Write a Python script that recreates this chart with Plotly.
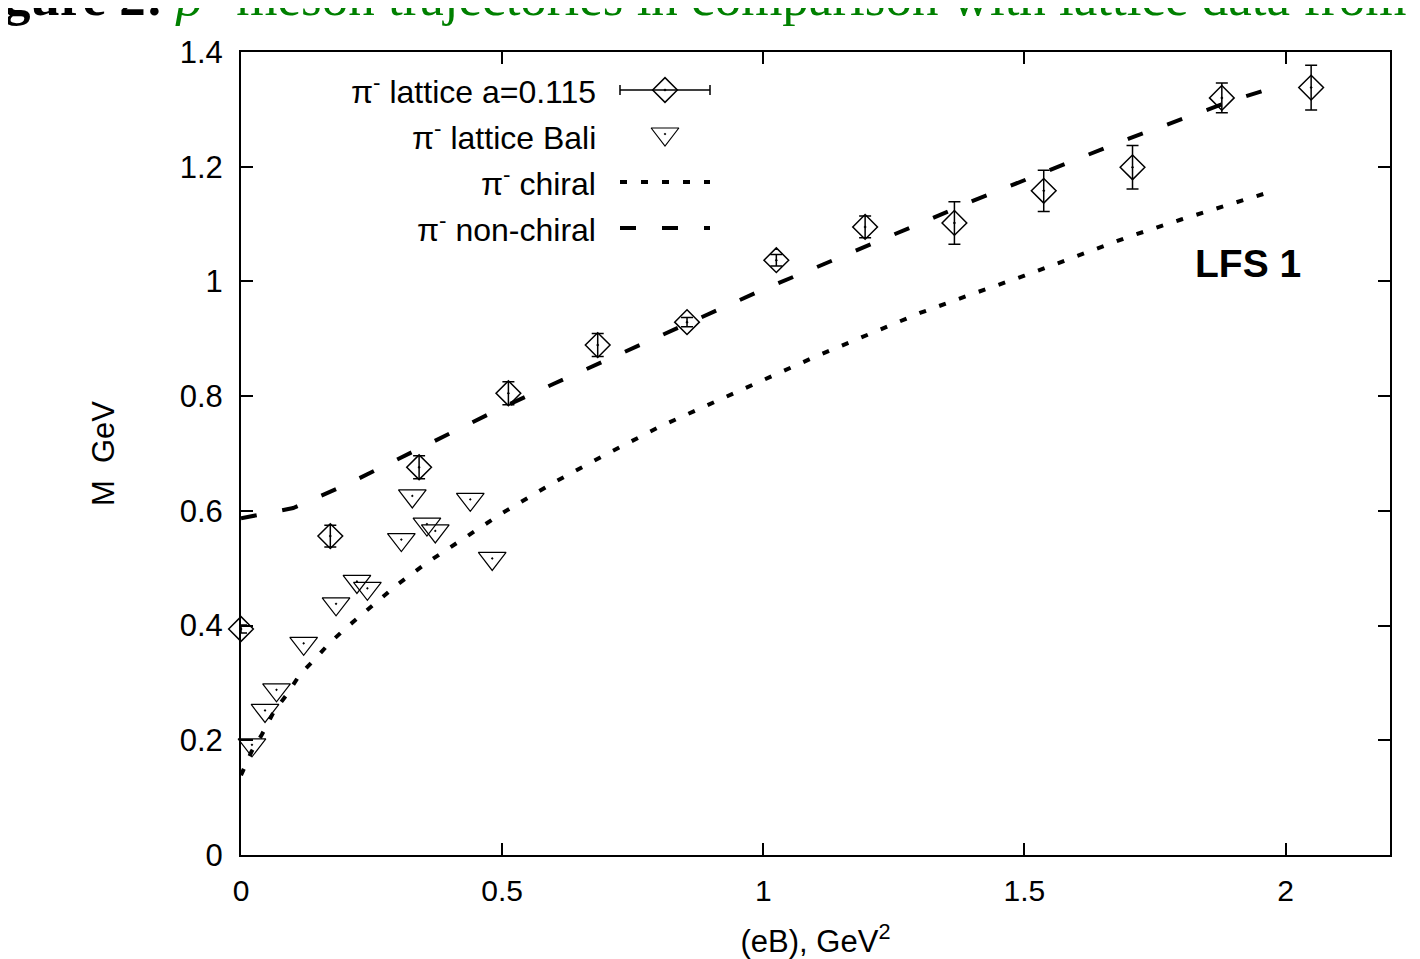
import plotly.graph_objects as go

# ---------------- data ----------------
# pi- lattice a=0.115 (diamonds with vertical error bars)
lat_x = [0.0, 0.171, 0.341, 0.512, 0.683, 0.854, 1.025, 1.195, 1.366, 1.537, 1.707, 1.878, 2.049]
lat_y = [0.394, 0.556, 0.676, 0.805, 0.889, 0.929, 1.037, 1.095, 1.102, 1.158, 1.199, 1.320, 1.338]
lat_err = [0.007, 0.019, 0.020, 0.020, 0.020, 0.008, 0.010, 0.019, 0.037, 0.036, 0.038, 0.026, 0.039]

# pi- lattice Bali (open down triangles)
bali_x = [0.021, 0.046, 0.068, 0.120, 0.182, 0.222, 0.242, 0.307, 0.328, 0.356, 0.372, 0.439, 0.481]
bali_y = [0.192, 0.252, 0.288, 0.369, 0.438, 0.477, 0.465, 0.550, 0.626, 0.577, 0.565, 0.620, 0.517]

# pi- chiral (dotted curve)
chiral_x = [0.0, 0.02, 0.04, 0.063, 0.088, 0.113, 0.14, 0.168, 0.2, 0.26, 0.3, 0.36, 0.43, 0.5,
            0.6, 0.7, 0.8, 0.9, 1.0, 1.1, 1.2, 1.3, 1.4, 1.5, 1.6, 1.7, 1.8, 1.9, 1.977]
chiral_y = [0.139, 0.18, 0.21, 0.25, 0.28, 0.315, 0.34, 0.368, 0.395, 0.442, 0.472, 0.512, 0.555, 0.596,
            0.650, 0.699, 0.746, 0.787, 0.829, 0.869, 0.907, 0.945, 0.978, 1.010, 1.044, 1.078, 1.108, 1.137, 1.158]

# pi- non-chiral (dashed curve)
nc_x = [0.0, 0.1, 0.2, 0.3, 0.4, 0.5, 0.6, 0.7, 0.8, 0.9, 1.0, 1.1, 1.2, 1.3, 1.4, 1.5, 1.6, 1.7, 1.8, 1.9, 1.967]
nc_y = [0.587, 0.605, 0.645, 0.690, 0.736, 0.780, 0.822, 0.863, 0.905, 0.946, 0.986, 1.024, 1.062, 1.101,
        1.140, 1.177, 1.213, 1.249, 1.282, 1.316, 1.335]

x_ticks = [0, 0.5, 1, 1.5, 2]
legend_labels = ["π<sup>-</sup> lattice a=0.115", "π<sup>-</sup> lattice Bali",
                 "π<sup>-</sup> chiral", "π<sup>-</sup> non-chiral"]

# ---------------- layout geometry (page pixels) ----------------
W, H = 1420, 959
OFF = 8                      # default body margin of the html page
L, R, T, B = 241, 1390, 52, 855
FONT = "Liberation Sans"


def px(xp):
    return (xp - L) / (R - L)


def py(yp):
    return (B - yp) / (B - T)


DASH_NC = "16px,26px"
DOT_CH = "7px,14px"

fig = go.Figure()

fig.add_trace(go.Scatter(
    x=chiral_x, y=chiral_y, mode="lines", name="π- chiral",
    line=dict(color="black", width=4, dash=DOT_CH), showlegend=False))
fig.add_trace(go.Scatter(
    x=nc_x, y=nc_y, mode="lines", name="π- non-chiral",
    line=dict(color="black", width=4, dash=DASH_NC), showlegend=False))
fig.add_trace(go.Scatter(
    x=bali_x, y=bali_y, mode="markers", name="π- lattice Bali",
    marker=dict(symbol="triangle-down-open-dot", size=24, color="black", line=dict(width=1.2)),
    showlegend=False, cliponaxis=False))
fig.add_trace(go.Scatter(
    x=lat_x, y=lat_y, mode="markers", name="π- lattice a=0.115",
    marker=dict(symbol="diamond-open-dot", size=19, color="black", line=dict(width=1.5)),
    error_y=dict(type="data", array=lat_err, color="black", thickness=1.5, width=6),
    showlegend=False, cliponaxis=False))

# ---------------- gnuplot-style key (text right, sample left) ----------------
key_rows_y = [90, 136, 182, 228]
key_text_right = 598
key_sample = (620, 710)
sx_mid = (key_sample[0] + key_sample[1]) / 2

# samples on an overlay pixel axis
fig.add_trace(go.Scatter(
    x=[sx_mid], y=[key_rows_y[0]], xaxis="x2", yaxis="y2", mode="markers",
    marker=dict(symbol="diamond-open-dot", size=19, color="black", line=dict(width=1.5)),
    error_x=dict(type="constant", value=(key_sample[1] - key_sample[0]) / 2, color="black",
                 thickness=1.5, width=5),
    showlegend=False, hoverinfo="skip", cliponaxis=False))
fig.add_trace(go.Scatter(
    x=[sx_mid], y=[key_rows_y[1] - 2], xaxis="x2", yaxis="y2", mode="markers",
    marker=dict(symbol="triangle-down-open-dot", size=24, color="black", line=dict(width=1.2)),
    showlegend=False, hoverinfo="skip", cliponaxis=False))
fig.add_trace(go.Scatter(
    x=list(key_sample), y=[key_rows_y[2]] * 2, xaxis="x2", yaxis="y2", mode="lines",
    line=dict(color="black", width=4, dash=DOT_CH), showlegend=False, hoverinfo="skip", cliponaxis=False))
fig.add_trace(go.Scatter(
    x=list(key_sample), y=[key_rows_y[3]] * 2, xaxis="x2", yaxis="y2", mode="lines",
    line=dict(color="black", width=4, dash=DASH_NC), showlegend=False, hoverinfo="skip", cliponaxis=False))

annotations = []
for lab, yy in zip(legend_labels, key_rows_y):
    annotations.append(dict(
        text=lab, xref="paper", yref="paper", x=px(key_text_right), y=py(yy),
        xanchor="right", yanchor="middle", showarrow=False,
        font=dict(family=FONT, size=32, color="black")))

annotations.append(dict(
    text="<b>LFS 1</b>", xref="paper", yref="paper", x=px(1303), y=py(263),
    xanchor="right", yanchor="middle", showarrow=False,
    font=dict(family=FONT, size=39, color="black")))

# clipped caption line at the very top of the page
annotations.append(dict(
    text="<b>gure 2:</b> <span style='color:#008000'><i>ρ</i><sup>−</sup> meson trajectories in comparison with lattice data from</span>",
    xref="paper", yref="paper", x=px(OFF - 6), y=py(28), xanchor="left", yanchor="bottom",
    showarrow=False, align="left",
    font=dict(family="Liberation Serif", size=53, color="black")))

fig.update_layout(
    width=W, height=H,
    margin=dict(l=L - OFF, r=W - (R - OFF), t=T - OFF, b=H - (B - OFF), autoexpand=False),
    paper_bgcolor="white", plot_bgcolor="white",
    font=dict(family=FONT, size=28, color="black"),
    annotations=annotations,
    xaxis=dict(
        range=[0, 2.2], tickvals=x_ticks, ticks="inside", ticklen=12, tickwidth=1.5,
        tickcolor="black", mirror="ticks", showline=True, linewidth=2, linecolor="black",
        showgrid=False, zeroline=False, ticklabelstandoff=8,
        tickfont=dict(family=FONT, size=30),
        title=dict(text="(eB), GeV<sup>2</sup>", font=dict(family=FONT, size=31), standoff=24),
        automargin=False),
    yaxis=dict(
        range=[0, 1.4], dtick=0.2, ticks="inside", ticklen=12, tickwidth=1.5,
        tickcolor="black", mirror="ticks", showline=True, linewidth=2, linecolor="black",
        showgrid=False, zeroline=False, ticklabelstandoff=10,
        tickfont=dict(family=FONT, size=31),
        title=dict(text="M  GeV", font=dict(family=FONT, size=31), standoff=56),
        automargin=False),
    xaxis2=dict(overlaying="x", range=[L, R], visible=False, fixedrange=True),
    yaxis2=dict(overlaying="y", range=[B, T], visible=False, fixedrange=True),
)

fig.write_html("out.html")
